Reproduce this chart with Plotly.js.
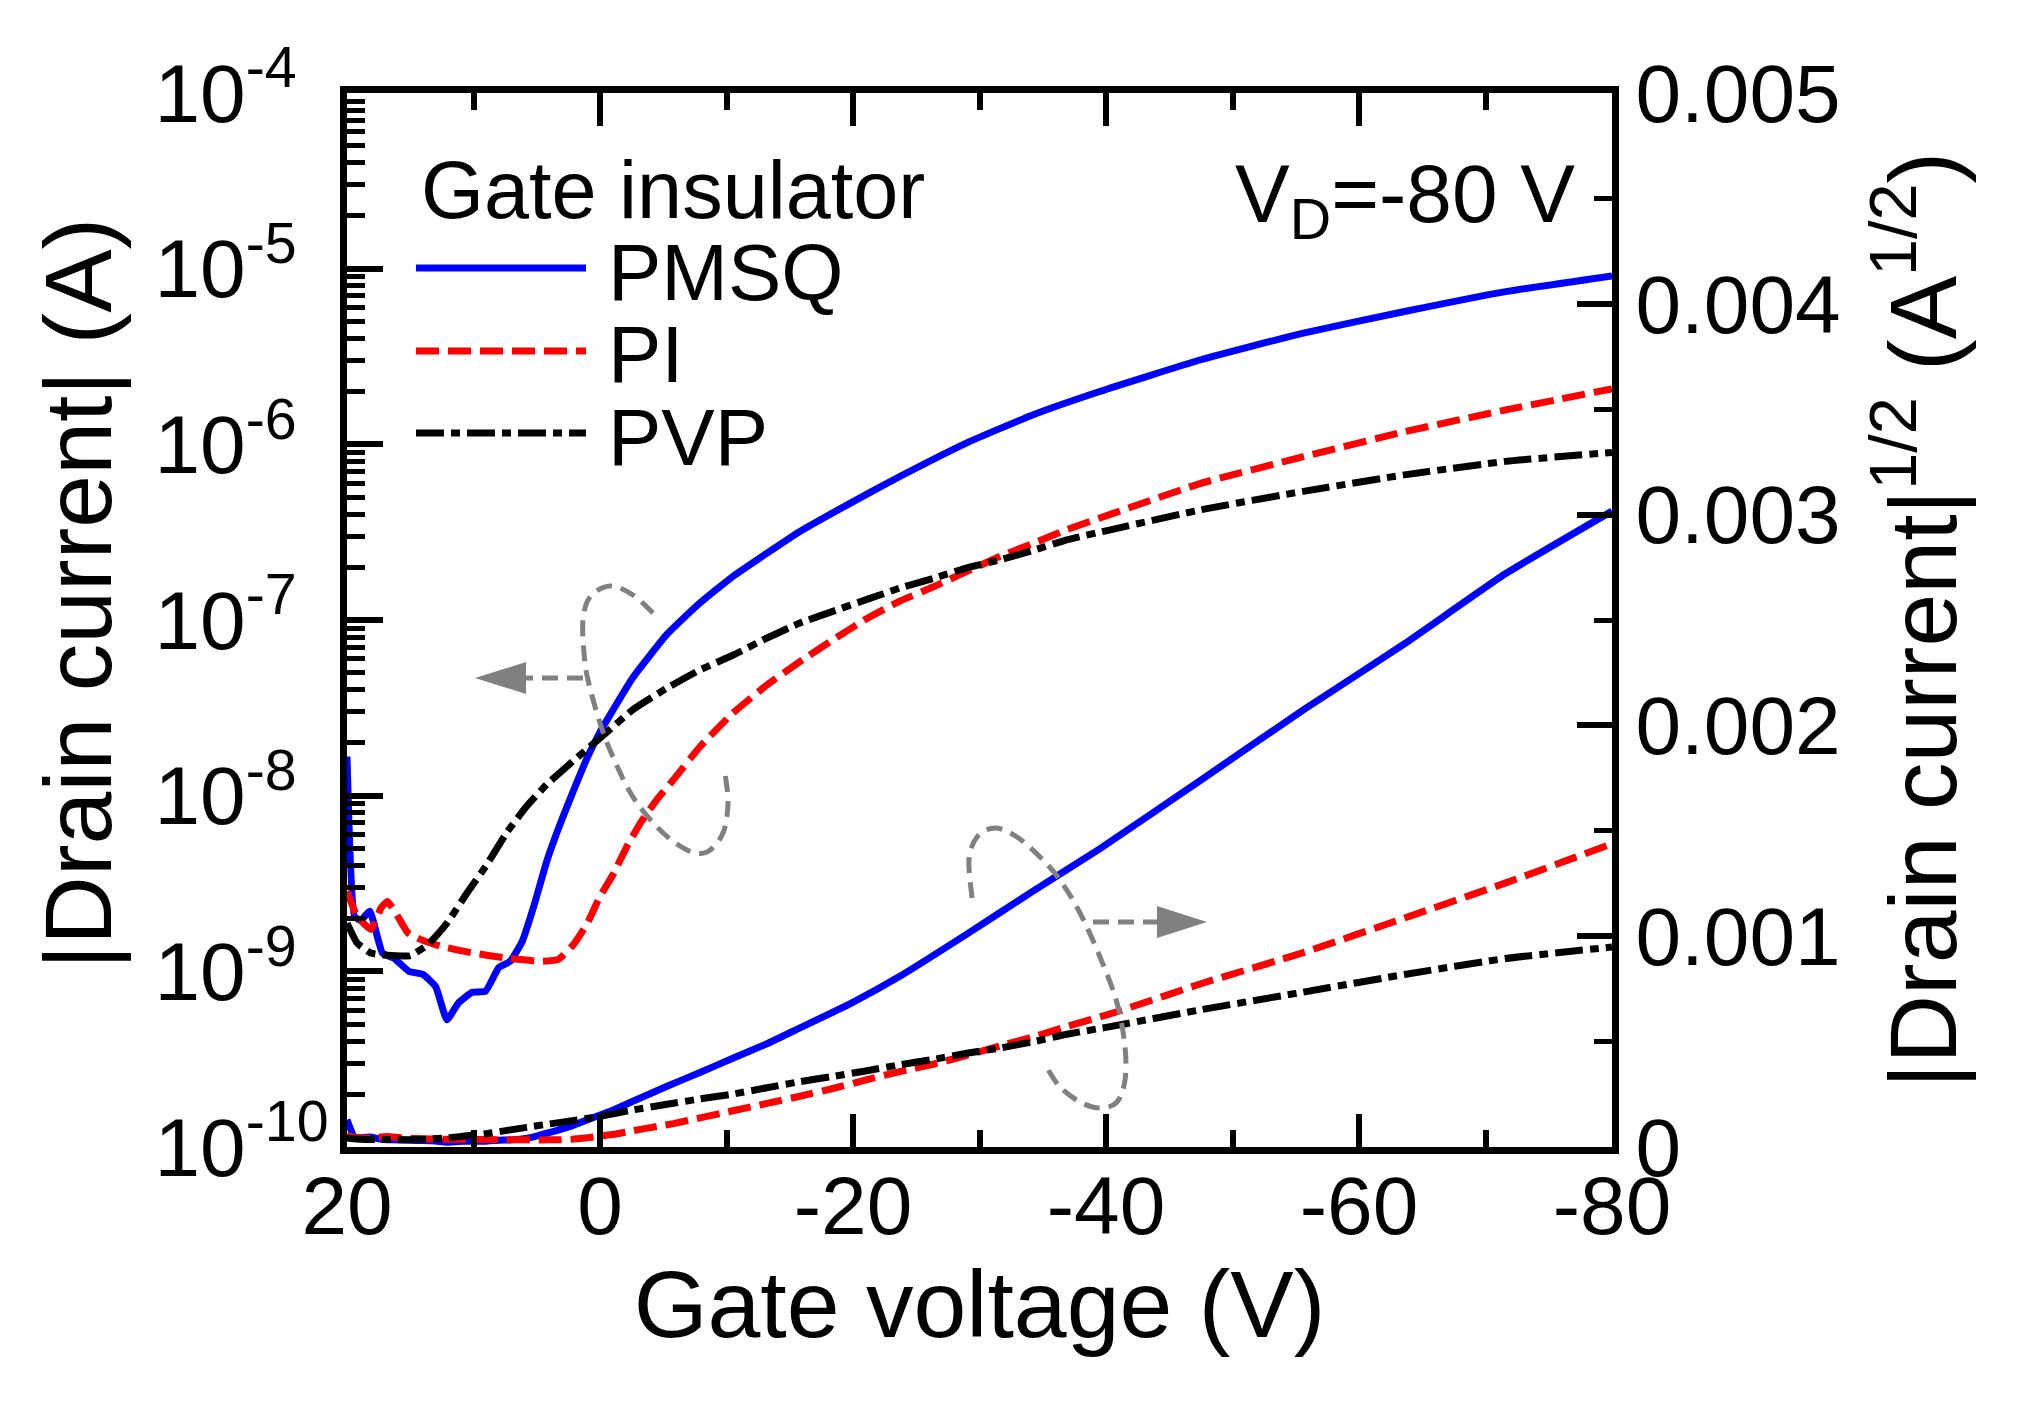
<!DOCTYPE html>
<html><head><meta charset="utf-8">
<script src="https://cdn.plot.ly/plotly-3.0.1.min.js"></script>
<style>html,body{margin:0;padding:0;background:#fff}</style>
</head><body><div id="chart" style="width:2034px;height:1415px"></div>
<script>
// ---- data ----
const seriesNames = ['PMSQ', 'PI', 'PVP'];
const legendTitle = 'Gate insulator';
const condText = 'V<sub>D</sub>=-80 V';

const vPMSQ = [20, 19.4, 18.9, 18.2, 17.2, 16.3, 15.1, 14.0, 13.0, 12.1, 11.2, 10.1, 9.05, 8.0, 7.1, 6.15, 5.24, 4.18, 3.12, 2.07, 1.02, 0, -1, -2.6, -5.3, -7.9, -10.5, -13.2, -15.8, -19.8, -23.7, -29, -34.2, -39.5, -47.5, -55.6, -63.6, -71.6, -80];
const iPMSQ = [1.67e-8, 2.05e-9, 1.95e-9, 2.2e-9, 1.27e-9, 1.19e-9, 1.0e-9, 9.6e-10, 8.2e-10, 5.3e-10, 6.6e-10, 7.6e-10, 7.7e-10, 1.05e-9, 1.14e-9, 1.48e-9, 2.34e-9, 4.3e-9, 7.0e-9, 1.08e-8, 1.64e-8, 2.3e-8, 3.05e-8, 4.7e-8, 8.3e-8, 1.25e-7, 1.77e-7, 2.4e-7, 3.19e-7, 4.63e-7, 6.56e-7, 1.02e-6, 1.47e-6, 2.0e-6, 3.03e-6, 4.3e-6, 5.7e-6, 7.4e-6, 9.1e-6];

const vPI = [20, 19.2, 18.1, 17.3, 16.8, 16.0, 15.2, 14.2, 12.6, 10.0, 7.4, 4.7, 3.3, 2.1, 1.0, 0, -1.1, -2.1, -3.2, -4.5, -5.8, -7.9, -10.5, -13.2, -15.8, -18.4, -21.1, -23.7, -26.4, -29, -31.6, -34.3, -36.9, -40.8, -47.5, -55.6, -63.6, -71.6, -80];
const iPI = [2.85e-9, 2.06e-9, 1.73e-9, 2.3e-9, 2.5e-9, 2.06e-9, 1.66e-9, 1.52e-9, 1.39e-9, 1.27e-9, 1.19e-9, 1.14e-9, 1.17e-9, 1.42e-9, 1.88e-9, 2.67e-9, 3.63e-9, 5.1e-9, 7.0e-9, 9.5e-9, 1.23e-8, 1.9e-8, 2.95e-8, 4.27e-8, 5.8e-8, 7.7e-8, 1.02e-7, 1.28e-7, 1.55e-7, 1.89e-7, 2.3e-7, 2.74e-7, 3.27e-7, 4.1e-7, 6.0e-7, 8.5e-7, 1.18e-6, 1.57e-6, 2.07e-6];

const vPVP = [20, 19.2, 18.1, 16.5, 15.0, 13.6, 12.1, 10.5, 8.9, 7.35, 5.8, 4.2, 2.6, 0.8, -0.3, -2.6, -5.3, -7.9, -10.5, -13.2, -15.8, -18.4, -21.1, -23.7, -26.4, -29, -31.6, -34.3, -36.9, -40, -47.5, -55.6, -63.6, -71.6, -80];
const iPVP = [1.88e-9, 1.45e-9, 1.27e-9, 1.23e-9, 1.23e-9, 1.42e-9, 1.88e-9, 2.8e-9, 4.1e-9, 6.2e-9, 8.7e-9, 1.16e-8, 1.47e-8, 1.9e-8, 2.22e-8, 3.09e-8, 4.1e-8, 5.2e-8, 6.3e-8, 7.9e-8, 9.6e-8, 1.12e-7, 1.31e-7, 1.52e-7, 1.73e-7, 1.98e-7, 2.2e-7, 2.5e-7, 2.86e-7, 3.22e-7, 4.24e-7, 5.4e-7, 6.7e-7, 8.0e-7, 9.0e-7];

const xTickVals = [20, 0, -20, -40, -60, -80];
const xTickText = ['20', '0', '-20', '-40', '-60', '-80'];
const xMinorVals = [10, -10, -30, -50, -70];
const yTickVals = [1e-10, 1e-9, 1e-8, 1e-7, 1e-6, 1e-5, 1e-4];
const yTickText = ['10<sup>-10</sup>', '10<sup>-9\u00A0\u00A0</sup>', '10<sup>-8\u00A0\u00A0</sup>', '10<sup>-7\u00A0\u00A0</sup>', '10<sup>-6\u00A0\u00A0</sup>', '10<sup>-5\u00A0\u00A0</sup>', '10<sup>-4\u00A0\u00A0</sup>'];
const y2TickVals = [0, 0.001, 0.002, 0.003, 0.004, 0.005];
const y2TickText = ['0', '0.001', '0.002', '0.003', '0.004', '0.005'];
const y2MinorVals = [0.0005, 0.0015, 0.0025, 0.0035, 0.0045];

// ---- build ----
const yMinorVals = [];
for (let e = -10; e < -4; e++) for (let m = 2; m <= 9; m++) yMinorVals.push(m * Math.pow(10, e));

const V = [vPMSQ, vPI, vPVP];
const I = [iPMSQ, iPI, iPVP];
const colors = ['#0000ff', '#ff0000', '#000000'];
const dashes = ['solid', '23px,9px', '28px,7px,9px,7px'];
const LW = 7;

const traces = [];
for (let k = 0; k < 3; k++) {
  traces.push({x: V[k], y: I[k], name: seriesNames[k], type: 'scatter', mode: 'lines', yaxis: 'y',
    line: {color: colors[k], width: LW, dash: dashes[k], shape: 'spline', smoothing: 0.4}, showlegend: false});
  traces.push({x: V[k], y: I[k].map(Math.sqrt), name: seriesNames[k] + ' |I|^1/2', type: 'scatter', mode: 'lines', yaxis: 'y2',
    line: {color: colors[k], width: LW, dash: dashes[k], shape: 'spline', smoothing: 0.4}, showlegend: false});
}

// plot-area pixel helpers for decorations
const PL = 347, PR = 1612, PT = 93, PB = 1147;
const fx = p => (p - PL) / (PR - PL);
const fy = p => (PB - p) / (PB - PT);
function smooth(pts) {
  const P = pts.map(p => [fx(p[0]), fy(p[1])]);
  let d = 'M' + P[0][0] + ',' + P[0][1];
  for (let i = 0; i < P.length - 1; i++) {
    const p0 = P[Math.max(0, i - 1)], p1 = P[i], p2 = P[i + 1], p3 = P[Math.min(P.length - 1, i + 2)];
    const c1 = [p1[0] + (p2[0] - p0[0]) / 6, p1[1] + (p2[1] - p0[1]) / 6];
    const c2 = [p2[0] - (p3[0] - p1[0]) / 6, p2[1] - (p3[1] - p1[1]) / 6];
    d += ' C' + c1[0] + ',' + c1[1] + ' ' + c2[0] + ',' + c2[1] + ' ' + p2[0] + ',' + p2[1];
  }
  return d;
}
function tri(pts) {
  return 'M' + pts.map(p => fx(p[0]) + ',' + fy(p[1])).join(' L') + ' Z';
}
const gray = '#808080';
const gline = {color: gray, width: 5, dash: '16px,9px'};
const ell1 = [[653,613],[633,595],[610,586],[590,597],[583,620],[584,653],[588,680],[600,723],[613,757],[633,797],[660,830],[687,850],[707,852],[723,833],[728,803],[725,773]];
const ell2 = [[972,898],[969,860],[977,837],[995,828],[1017,837],[1040,857],[1060,880],[1080,913],[1100,957],[1117,1003],[1125,1047],[1125,1080],[1117,1102],[1100,1108],[1080,1102],[1060,1087],[1047,1068]];

const shapes = [
  {type: 'path', xref: 'paper', yref: 'paper', path: smooth(ell1), line: gline},
  {type: 'path', xref: 'paper', yref: 'paper', path: smooth(ell2), line: gline},
  {type: 'line', xref: 'paper', yref: 'paper', x0: fx(583), y0: fy(678), x1: fx(525), y1: fy(678), line: gline},
  {type: 'path', xref: 'paper', yref: 'paper', path: tri([[475,678],[526,662],[526,694]]), fillcolor: gray, line: {width: 0}},
  {type: 'line', xref: 'paper', yref: 'paper', x0: fx(1093), y0: fy(922), x1: fx(1158), y1: fy(922), line: gline},
  {type: 'path', xref: 'paper', yref: 'paper', path: tri([[1207,922],[1157,906],[1157,938]]), fillcolor: gray, line: {width: 0}}
];
// legend samples
const legY = [268, 351, 433];
for (let k = 0; k < 3; k++) {
  shapes.push({type: 'line', xref: 'paper', yref: 'paper', x0: fx(416), x1: fx(586), y0: fy(legY[k]), y1: fy(legY[k]),
    line: {color: colors[k], width: LW, dash: dashes[k]}});
}
const annotations = [
  {xref: 'paper', yref: 'paper', x: fx(419), y: fy(189.5), xanchor: 'left', yanchor: 'middle', showarrow: false, text: legendTitle, font: {size: 81}},
  {xref: 'paper', yref: 'paper', x: fx(1233), y: fy(199), xanchor: 'left', yanchor: 'middle', showarrow: false, text: condText, font: {size: 82}}
];
for (let k = 0; k < 3; k++) {
  annotations.push({xref: 'paper', yref: 'paper', x: fx(606), y: fy(legY[k] + 4), xanchor: 'left', yanchor: 'middle', showarrow: false,
    text: seriesNames[k], font: {size: 80}});
}

const axisCommon = {showline: true, linewidth: 7, linecolor: '#000', ticks: 'inside', tickwidth: 6, tickcolor: '#000',
  showgrid: false, zeroline: false, tickfont: {size: 82}, automargin: false, tickmode: 'array'};

const layout = {
  width: 2034, height: 1415,
  margin: {l: PL, r: 2034 - PR, t: PT, b: 1415 - PB, pad: 0},
  paper_bgcolor: '#fff', plot_bgcolor: '#fff',
  font: {family: '"Liberation Sans", Arial, Helvetica, sans-serif', color: '#000', size: 82},
  showlegend: false,
  xaxis: Object.assign({}, axisCommon, {range: [20, -80], tickvals: xTickVals, ticktext: xTickText, ticklen: 33, mirror: 'ticks',
    ticklabelstandoff: -18,
    title: {text: 'Gate voltage (V)', font: {size: 95}, standoff: 13},
    minor: {tickmode: 'array', tickvals: xMinorVals, ticks: 'inside', ticklen: 17, tickwidth: 6, tickcolor: '#000'}}),
  yaxis: Object.assign({}, axisCommon, {type: 'log', range: [-10, -4], tickvals: yTickVals, ticktext: yTickText, ticklen: 36,
    ticklabelstandoff: -5,
    title: {text: '<span>\u00A0\u00A0</span>|Drain current| (A)', font: {size: 95}, standoff: 14},
    minor: {tickmode: 'array', tickvals: yMinorVals, ticks: 'inside', ticklen: 18, tickwidth: 5, tickcolor: '#000'}}),
  yaxis2: Object.assign({}, axisCommon, {overlaying: 'y', side: 'right', range: [0, 0.005], tickvals: y2TickVals, ticktext: y2TickText, ticklen: 35,
    title: {text: '|Drain current|<sup>1/2</sup> (A<sup>1/2</sup>)', font: {size: 95}, standoff: 52},
    minor: {tickmode: 'array', tickvals: y2MinorVals, ticks: 'inside', ticklen: 18, tickwidth: 5, tickcolor: '#000'}}),
  shapes: shapes,
  annotations: annotations
};

Plotly.newPlot('chart', traces, layout, {displayModeBar: false, staticPlot: true});
</script></body></html>
